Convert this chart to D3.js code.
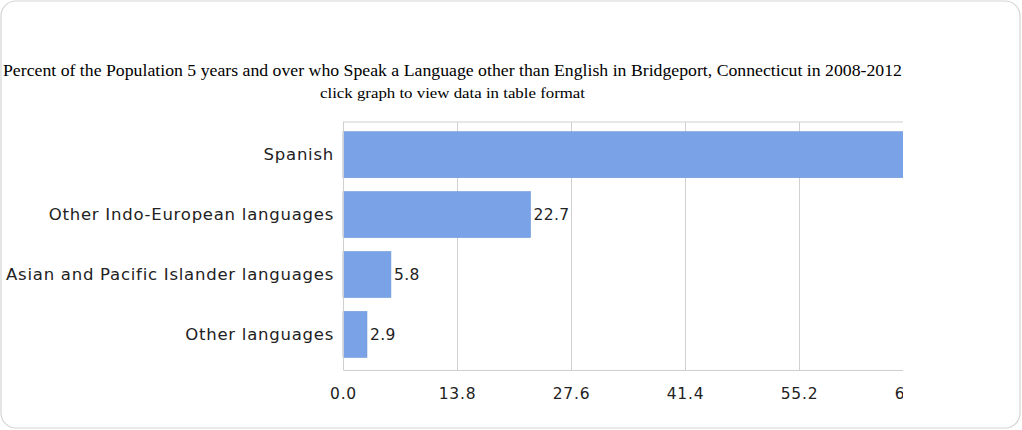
<!DOCTYPE html>
<html>
<head>
<meta charset="utf-8">
<script src="https://cdn.jsdelivr.net/npm/d3@7"></script>
<style>
  html, body { margin: 0; padding: 0; background: #fff; }
  svg { display: block; }
</style>
</head>
<body>
<svg id="chart" width="1022" height="430"></svg>
<script>
// Languages spoken at home, Bridgeport CT, 2008-2012 (percent of population 5+ speaking a non-English language)
const categories = ["Spanish", "Other Indo-European languages", "Asian and Pacific Islander languages", "Other languages"];
const values = [68.6, 22.7, 5.8, 2.9];
const tickValues = [0, 13.8, 27.6, 41.4, 55.2, 69.0];
const titleText = "Percent of the Population 5 years and over who Speak a Language other than English in Bridgeport, Connecticut in 2008-2012";
const subtitleText = "click graph to view data in table format";

const svg = d3.select("#chart");

// rounded outer frame
svg.append("rect")
  .attr("x", 1).attr("y", 1)
  .attr("width", 1019).attr("height", 427)
  .attr("rx", 15).attr("ry", 15)
  .attr("fill", "#fff")
  .attr("stroke", "#d4d4d4")
  .attr("stroke-width", 1.2);

// the chart image area is 903px wide; everything beyond is cut off
const defs = svg.append("defs");
defs.append("clipPath").attr("id", "imgclip")
  .append("rect").attr("x", 0).attr("y", 0).attr("width", 903).attr("height", 430);

const g = svg.append("g").attr("clip-path", "url(#imgclip)");

const serif = "'Liberation Serif', 'Times New Roman', serif";

g.append("text")
  .attr("x", 3).attr("y", 76)
  .attr("font-family", serif)
  .attr("font-size", 17.5)
  .attr("textLength", 899)
  .attr("lengthAdjust", "spacingAndGlyphs")
  .attr("fill", "#000")
  .text(titleText);

g.append("text")
  .attr("x", 320).attr("y", 98)
  .attr("font-family", serif)
  .attr("font-size", 15)
  .attr("textLength", 265)
  .attr("lengthAdjust", "spacingAndGlyphs")
  .attr("fill", "#000")
  .text(subtitleText);

const plotLeft = 343, plotTop = 122, plotBottom = 370;

const x = d3.scaleLinear().domain([0, 69.0]).range([plotLeft, plotLeft + 570]);
const y = d3.scaleBand().domain(categories).range([124.75, 364.35]).paddingInner(0.232).paddingOuter(0.116);

const sans = "'DejaVu Sans', Verdana, sans-serif";

// top border of plot
g.append("line")
  .attr("x1", plotLeft).attr("x2", x(69.0))
  .attr("y1", plotTop).attr("y2", plotTop)
  .attr("stroke", "#cfcfcf").attr("stroke-width", 1.2);

// vertical grid lines
g.append("g").selectAll("line")
  .data(tickValues.slice(1))
  .join("line")
  .attr("x1", d => Math.round(x(d)) + 0.5).attr("x2", d => Math.round(x(d)) + 0.5)
  .attr("y1", plotTop).attr("y2", plotBottom)
  .attr("stroke", "#d0d0d0").attr("stroke-width", 1);

// bars
g.append("g").selectAll("rect")
  .data(values)
  .join("rect")
  .attr("x", x(0))
  .attr("y", (d, i) => y(categories[i]))
  .attr("width", d => x(d) - x(0))
  .attr("height", y.bandwidth())
  .attr("fill", "#79a3e6")
  .attr("stroke", "#6f97d8")
  .attr("stroke-width", 0.6);

// value labels
g.append("g").selectAll("text")
  .data(values)
  .join("text")
  .attr("x", d => x(d) + 3)
  .attr("y", (d, i) => y(categories[i]) + y.bandwidth() / 2)
  .attr("dy", "0.35em")
  .attr("font-family", sans)
  .attr("font-size", 15.5)
  .attr("letter-spacing", 0.4)
  .attr("fill", "#222")
  .text(d => d.toFixed(1));

// y axis line
g.append("line")
  .attr("x1", plotLeft + 0.5).attr("x2", plotLeft + 0.5)
  .attr("y1", plotTop).attr("y2", plotBottom)
  .attr("stroke", "#cfcfcf").attr("stroke-width", 1);

// x axis
const xAxis = d3.axisBottom(x).tickValues(tickValues).tickFormat(d3.format(".1f")).tickSize(0).tickPadding(18);
const xa = g.append("g").attr("transform", `translate(0,${plotBottom})`).call(xAxis);
xa.select(".domain").attr("stroke", "#cfcfcf").attr("stroke-width", 1.2);
xa.selectAll("text")
  .attr("font-family", sans)
  .attr("font-size", 15.5)
  .attr("letter-spacing", 0.8)
  .attr("fill", "#222");

// category axis
const yAxis = d3.axisLeft(y).tickSize(0).tickPadding(9);
const ya = g.append("g").attr("transform", `translate(${plotLeft},0)`).call(yAxis);
ya.select(".domain").remove();
ya.selectAll("text")
  .attr("font-family", sans)
  .attr("font-size", 16.5)
  .attr("letter-spacing", 0.75)
  .attr("fill", "#222");
</script>
</body>
</html>
